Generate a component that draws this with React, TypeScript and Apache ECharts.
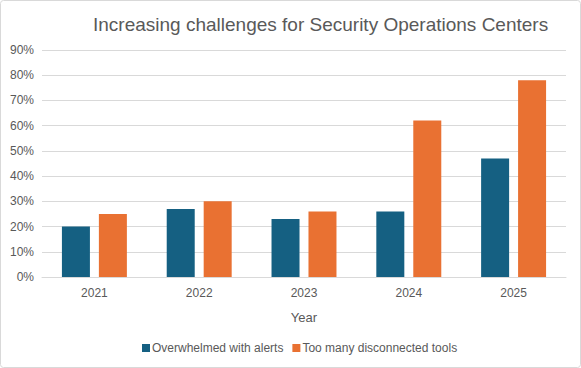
import React, { useEffect, useRef } from "react";
import * as echarts from "echarts";

const years = ["2021", "2022", "2023", "2024", "2025"];
const overwhelmed = [20, 27, 23, 26, 47];
const disconnected = [25, 30, 26, 62, 78];
const seriesNames = ["Overwhelmed with alerts", "Too many disconnected tools"];

export default function App() {
  const ref = useRef<HTMLDivElement>(null);
  useEffect(() => {
    document.body.style.margin = "0";
    const chart = echarts.init(ref.current!, null, { renderer: "svg" });
    chart.setOption({
      animation: false,
      backgroundColor: "#ffffff",
      textStyle: { fontFamily: "Liberation Sans" },
      title: {
        text: "Increasing challenges for Security Operations Centers",
        left: 88,
        top: 10,
        textStyle: { fontSize: 19, fontWeight: "normal", color: "#595959", fontFamily: "Liberation Sans" },
      },
      graphic: [
        {
          type: "rect",
          shape: { x: 0.5, y: 0.5, width: 580, height: 367, r: 3 },
          style: { fill: "none", stroke: "#d9d9d9", lineWidth: 1 },
          silent: true,
        },
      ],
      legend: {
        bottom: 9,
        left: 137,
        itemWidth: 8,
        itemHeight: 8,
        itemGap: 9,
        icon: "rect",
        textStyle: { fontSize: 12, color: "#595959", padding: [0, 0, 0, -3] },
        data: seriesNames,
      },
      grid: { left: 42, right: 15, top: 50, bottom: 91 },
      xAxis: {
        type: "category",
        data: years,
        name: "Year",
        nameLocation: "middle",
        nameGap: 34,
        nameTextStyle: { fontSize: 13, color: "#595959" },
        axisLine: { lineStyle: { color: "#d9d9d9" } },
        axisTick: { show: false },
        axisLabel: { fontSize: 12, color: "#595959", margin: 10 },
      },
      yAxis: {
        type: "value",
        min: 0,
        max: 90,
        interval: 10,
        axisLabel: { formatter: "{value}%", fontSize: 12, color: "#595959", margin: 8 },
        splitLine: { lineStyle: { color: "#d9d9d9" } },
        axisLine: { show: false },
        axisTick: { show: false },
      },
      series: [
        {
          name: seriesNames[0],
          type: "bar",
          data: overwhelmed,
          barWidth: 28,
          barGap: "32%",
          itemStyle: { color: "#156082" },
        },
        {
          name: seriesNames[1],
          type: "bar",
          data: disconnected,
          barWidth: 28,
          itemStyle: { color: "#E97132" },
        },
      ],
    });
    return () => chart.dispose();
  }, []);
  return <div ref={ref} style={{ width: 581, height: 368 }} />;
}
